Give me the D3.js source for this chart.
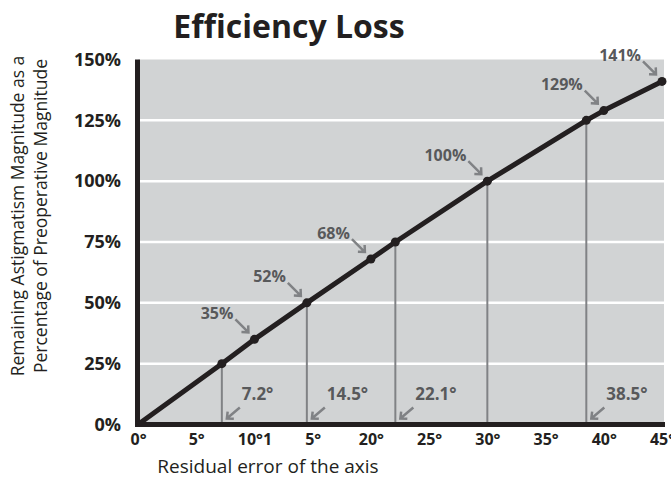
<!DOCTYPE html>
<html>
<head>
<meta charset="utf-8">
<script src="https://cdn.jsdelivr.net/npm/d3@7"></script>
<style>
  body { margin: 0; background: #fff; }
  svg { display: block; font-family: "Open Sans", sans-serif; }
</style>
</head>
<body>
<div class="main"></div>
<script>
// line through the points
const xDeg = [0, 7.2, 10, 14.5, 20, 22.1, 30, 38.5, 40, 45];
const yPct = [0, 25, 35, 50, 68, 75, 100, 125, 129, 141];

// percent callouts (arrow to dot)
const calloutX = [10, 14.5, 20, 30, 40, 45];
const calloutY = [35, 50, 68, 100, 129, 141];
const calloutText = ["35%", "52%", "68%", "100%", "129%", "141%"];

// vertical drop lines
const dropX = [7.2, 14.5, 22.1, 30, 38.5];
const dropY = [25, 50, 75, 100, 125];
const dropText = ["7.2°", "14.5°", "22.1°", "", "38.5°"];

const xTicks = [0, 5, 10, 15, 20, 25, 30, 35, 40, 45];
const xTickLabels = ["0°", "5°", "10°1", "5°", "20°", "25°", "30°", "35°", "40°", "45°"];
const yTicks = [0, 25, 50, 75, 100, 125, 150];
const yTickLabels = ["0%", "25%", "50%", "75%", "100%", "125%", "150%"];

const width = 671, height = 484;

const x = d3.scaleLinear().domain([0, 45]).range([138, 662]);
const y = d3.scaleLinear().domain([0, 150]).range([424.5, 59.5]);

const svg = d3.select(".main").append("svg")
    .attr("width", width)
    .attr("height", height);

// grey plot background
svg.append("rect")
    .attr("x", x(0))
    .attr("y", y(150))
    .attr("width", x(45) - x(0) + 2)
    .attr("height", y(0) - y(150))
    .attr("fill", "#d1d3d4");

// white gridlines
svg.append("g").selectAll("line")
    .data(yTicks.filter(d => d > 0 && d < 150))
    .enter().append("line")
    .attr("x1", x(0))
    .attr("x2", x(45) + 2)
    .attr("y1", d => y(d))
    .attr("y2", d => y(d))
    .attr("stroke", "#fff")
    .attr("stroke-width", 2.5);

// drop lines
svg.append("g").selectAll("line")
    .data(dropX)
    .enter().append("line")
    .attr("x1", d => x(d))
    .attr("x2", d => x(d))
    .attr("y1", (d, i) => y(dropY[i]))
    .attr("y2", y(0))
    .attr("stroke", "#808285")
    .attr("stroke-width", 2);

// axis lines
svg.append("line")
    .attr("x1", x(0) - 0.5).attr("x2", x(0) - 0.5)
    .attr("y1", y(150)).attr("y2", y(0) + 2.5)
    .attr("stroke", "#231f20")
    .attr("stroke-width", 5);
svg.append("line")
    .attr("x1", x(0) - 3).attr("x2", x(45) + 3)
    .attr("y1", y(0)).attr("y2", y(0))
    .attr("stroke", "#231f20")
    .attr("stroke-width", 5);

// the curve
const pts = xDeg.map((d, i) => [x(d), y(yPct[i])]);
svg.append("path")
    .attr("d", d3.line()(pts))
    .attr("fill", "none")
    .attr("stroke", "#231f20")
    .attr("stroke-width", 5)
    .attr("stroke-linejoin", "round");

svg.append("g").selectAll("circle")
    .data(pts.slice(1))
    .enter().append("circle")
    .attr("cx", d => d[0])
    .attr("cy", d => d[1])
    .attr("r", 4.5)
    .attr("fill", "#231f20");

const arrowColor = "#808285";
const labelColor = "#58595b";

// draws a short arrow with an open head
function arrow(g, x1, y1, x2, y2) {
    const a = Math.atan2(y2 - y1, x2 - x1), h = 7;
    const p = d3.path();
    p.moveTo(x1, y1); p.lineTo(x2, y2);
    p.moveTo(x2 - h * Math.cos(a - 0.75), y2 - h * Math.sin(a - 0.75));
    p.lineTo(x2, y2);
    p.lineTo(x2 - h * Math.cos(a + 0.75), y2 - h * Math.sin(a + 0.75));
    g.append("path")
        .attr("d", p.toString())
        .attr("fill", "none")
        .attr("stroke", arrowColor)
        .attr("stroke-width", 2.5)
        .attr("stroke-linejoin", "miter");
}

// percent callouts
const callouts = svg.append("g");
calloutX.forEach((d, i) => {
    const cx = x(d), cy = y(calloutY[i]);
    arrow(callouts, cx - 19, cy - 20, cx - 6, cy - 7);
    callouts.append("text")
        .attr("x", cx - 21)
        .attr("y", cy - 26)
        .attr("dy", "0.35em")
        .attr("text-anchor", "end")
        .attr("font-size", 16)
        .attr("font-weight", "bold")
        .attr("fill", labelColor)
        .text(calloutText[i]);
});

// degree callouts
const degs = svg.append("g");
dropX.forEach((d, i) => {
    if (!dropText[i]) return;
    const lx = x(d);
    arrow(degs, lx + 18, y(0) - 17, lx + 5, y(0) - 6);
    degs.append("text")
        .attr("x", lx + 20)
        .attr("y", y(0) - 30)
        .attr("dy", "0.35em")
        .attr("font-size", 17)
        .attr("font-weight", "bold")
        .attr("fill", labelColor)
        .text(dropText[i]);
});

// tick labels
const xAxis = svg.append("g")
    .attr("transform", "translate(0," + (y(0) + 6) + ")")
    .call(d3.axisBottom(x).tickValues(xTicks).tickSize(0)
        .tickFormat((d, i) => xTickLabels[i]));
xAxis.select(".domain").remove();
xAxis.selectAll("text")
    .attr("font-family", "Open Sans")
    .attr("font-size", 16)
    .attr("font-weight", "bold")
    .attr("fill", "#231f20");

const yAxis = svg.append("g")
    .attr("transform", "translate(124,0)")
    .call(d3.axisLeft(y).tickValues(yTicks).tickSize(0)
        .tickFormat((d, i) => yTickLabels[i]));
yAxis.select(".domain").remove();
yAxis.selectAll("text")
    .attr("font-family", "Open Sans")
    .attr("font-size", 18)
    .attr("font-weight", "bold")
    .attr("fill", "#231f20");

// titles
svg.append("text")
    .attr("x", 289)
    .attr("y", 38)
    .attr("text-anchor", "middle")
    .attr("font-size", 32)
    .attr("font-weight", "bold")
    .attr("fill", "#231f20")
    .text("Efficiency Loss");

svg.append("text")
    .attr("x", 268)
    .attr("y", 473)
    .attr("text-anchor", "middle")
    .attr("font-size", 19)
    .attr("fill", "#231f20")
    .text("Residual error of the axis");

const yTitle = svg.append("text")
    .attr("transform", "translate(0,216) rotate(-90)")
    .attr("text-anchor", "middle")
    .attr("font-size", 17.5)
    .attr("fill", "#231f20");
yTitle.append("tspan").attr("x", 0).attr("y", 24)
    .text("Remaining Astigmatism Magnitude as a");
yTitle.append("tspan").attr("x", 0).attr("y", 47)
    .text("Percentage of Preoperative Magnitude");
</script>
</body>
</html>
